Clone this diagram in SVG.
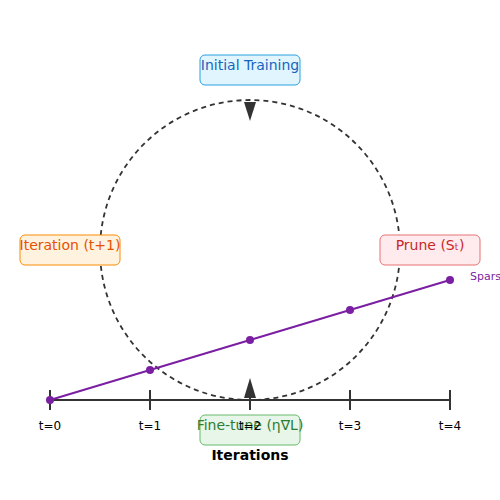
<svg xmlns="http://www.w3.org/2000/svg" width="500" height="500" viewBox="0 0 500 500">
<style>
.box{stroke-width:1;}
.lbl{font-family:"DejaVu Sans",sans-serif;font-size:14px;text-anchor:middle;}
.tick{font-family:"DejaVu Sans",sans-serif;font-size:12px;text-anchor:middle;fill:#000;}
.axis{stroke:#333;stroke-width:2;fill:none;}
.pt{fill:#7b1fa2;}
</style>
<rect width="500" height="500" fill="#fff"/>
<g id="connectors">
<circle cx="250" cy="250" r="150" fill="none" stroke="#333" stroke-width="1.8" stroke-dasharray="5,4"/>
<polygon points="244,102 256,102 250,121" fill="#333"/>
<polygon points="244,398 256,398 250,378" fill="#333"/>
</g>
<g id="axis">
<line class="axis" x1="50" y1="400" x2="450" y2="400"/>
<line class="axis" x1="50" y1="390" x2="50" y2="410"/>
<line class="axis" x1="150" y1="390" x2="150" y2="410"/>
<line class="axis" x1="250" y1="390" x2="250" y2="410"/>
<line class="axis" x1="350" y1="390" x2="350" y2="410"/>
<line class="axis" x1="450" y1="390" x2="450" y2="410"/>
</g>
<g id="sparsity">
<polyline points="50,400 150,370 250,340 350,310 450,280" fill="none" stroke="#7b1fa2" stroke-width="2"/>
<circle class="pt" cx="50" cy="400" r="4"/>
<circle class="pt" cx="150" cy="370" r="4"/>
<circle class="pt" cx="250" cy="340" r="4"/>
<circle class="pt" cx="350" cy="310" r="4"/>
<circle class="pt" cx="450" cy="280" r="4"/>
<text x="470" y="280" font-family="DejaVu Sans,sans-serif" font-size="11" fill="#7b1fa2">Sparsity</text>
</g>
<g id="node-initial">
<rect class="box" x="200" y="55" width="100" height="30" rx="5" fill="#e1f5fe" stroke="#29a0e0"/>
<text class="lbl" x="250" y="70" fill="#1565c0">Initial Training</text>
</g>
<g id="node-prune">
<rect class="box" x="380" y="235" width="100" height="30" rx="5" fill="#ffebee" stroke="#e57373"/>
<text class="lbl" x="430" y="250" fill="#c62828">Prune (Sₜ)</text>
</g>
<g id="node-iteration">
<rect class="box" x="20" y="235" width="100" height="30" rx="5" fill="#fff3e0" stroke="#fb8c00"/>
<text class="lbl" x="70" y="250" fill="#e65100">Iteration (t+1)</text>
</g>
<g id="node-finetune">
<rect class="box" x="200" y="415" width="100" height="30" rx="5" fill="#e8f5e9" stroke="#66bb6a"/>
<text class="lbl" x="250" y="430" fill="#2e7d32">Fine-tune (η∇L)</text>
</g>
<g id="axis-labels">
<text class="tick" x="50" y="430">t=0</text>
<text class="tick" x="150" y="430">t=1</text>
<text class="tick" x="250" y="430">t=2</text>
<text class="tick" x="350" y="430">t=3</text>
<text class="tick" x="450" y="430">t=4</text>
<text x="250" y="460" font-family="DejaVu Sans,sans-serif" font-size="14" font-weight="bold" text-anchor="middle" fill="#000">Iterations</text>
</g>
</svg>
